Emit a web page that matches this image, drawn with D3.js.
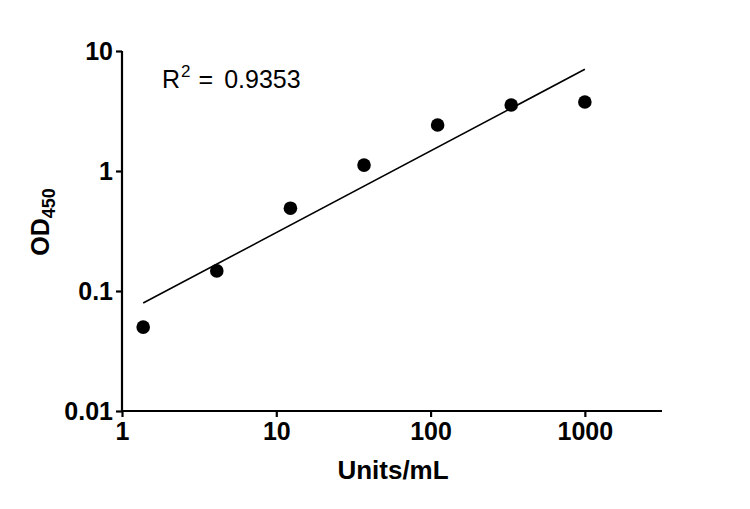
<!DOCTYPE html>
<html>
<head>
<meta charset="utf-8">
<script src="https://cdn.jsdelivr.net/npm/d3@7"></script>
<style>
  html, body { margin: 0; padding: 0; background: #fff; }
  svg { display: block; }
  text { font-family: "Liberation Sans", Arial, sans-serif; fill: #000; }
</style>
</head>
<body>
<script>
// ---- Data ----
const concentrations = [1.372, 4.115, 12.35, 37.04, 111.1, 333.3, 1000]; // Units/mL
const od450 = [0.050, 0.147, 0.49, 1.12, 2.42, 3.55, 3.76];
const xTicks = [1, 10, 100, 1000];
const yTicks = [0.01, 0.1, 1, 10];
const xTickLabels = ["1", "10", "100", "1000"];
const yTickLabels = ["0.01", "0.1", "1", "10"];
const rSquaredLabel = "0.9353";

const W = 750, H = 509;
const svg = d3.select("body").append("svg").attr("width", W).attr("height", H);

const x = d3.scaleLog().domain([1, Math.pow(10, 3.5)]).range([122, 662]);
const y = d3.scaleLog().domain([0.01, 10]).range([411, 51]);

// Axes
const xAxis = d3.axisBottom(x).tickValues(xTicks).tickSize(6).tickPadding(5)
  .tickFormat((d, i) => xTickLabels[i]);
const yAxis = d3.axisLeft(y).tickValues(yTicks).tickSize(6).tickPadding(3)
  .tickFormat((d, i) => yTickLabels[i]);

const gx = svg.append("g").attr("transform", `translate(0,${y(0.01)})`).call(xAxis);
const gy = svg.append("g").attr("transform", `translate(${x(1)},0)`).call(yAxis);

[gx, gy].forEach(g => {
  g.attr("font-size", 25).attr("font-family", '"Liberation Sans", Arial, sans-serif');
  g.select(".domain").attr("stroke", "#000").attr("stroke-width", 2.2);
  g.selectAll(".tick line").attr("stroke", "#000").attr("stroke-width", 2.2);
  g.selectAll(".tick text")
    .style("font-size", "25px").style("font-weight", "bold").attr("fill", "#000");
});
gx.select(".domain").attr("d", `M${x.range()[0]},0H${x.range()[1]}`);
gy.select(".domain").attr("d", `M0,${y.range()[0]}V${y.range()[1]}`);

// Axis titles
svg.append("text")
  .attr("x", 393).attr("y", 479)
  .attr("text-anchor", "middle")
  .style("font-size", "26px").style("font-weight", "bold")
  .text("Units/mL");

const yt = svg.append("text")
  .attr("transform", "translate(49,222) rotate(-90)")
  .attr("text-anchor", "middle")
  .style("font-size", "25px").style("font-weight", "bold");
yt.append("tspan").text("OD");
yt.append("tspan").style("font-size", "18px").attr("dy", 6).text("450");

// Linear regression in log-log space (fit line)
const lx = concentrations.map(Math.log10), ly = od450.map(Math.log10);
const mx = d3.mean(lx), my = d3.mean(ly);
const slope = d3.sum(lx.map((v, i) => (v - mx) * (ly[i] - my))) / d3.sum(lx.map(v => (v - mx) ** 2));
const intercept = my - slope * mx;
const fitX = [concentrations[0], concentrations[concentrations.length - 1]];
const fitData = fitX.map(c => [c, Math.pow(10, intercept + slope * Math.log10(c))]);

svg.append("path")
  .datum(fitData)
  .attr("fill", "none").attr("stroke", "#000").attr("stroke-width", 1.6)
  .attr("d", d3.line().x(d => x(d[0])).y(d => y(d[1])));

// Points
svg.selectAll("circle.pt")
  .data(concentrations.map((c, i) => [c, od450[i]]))
  .join("circle")
  .attr("class", "pt")
  .attr("cx", d => x(d[0])).attr("cy", d => y(d[1]))
  .attr("r", 6.8).attr("fill", "#000");

// R² annotation
const rt = svg.append("text").attr("x", 162).attr("y", 88).style("font-size", "25px");
rt.append("tspan").text("R");
rt.append("tspan").style("font-size", "17px").attr("dx", 1).attr("dy", -11).text("2");
rt.append("tspan").attr("dy", 11).attr("dx", 8).text("=");
rt.append("tspan").attr("dx", 11).text(rSquaredLabel);
</script>
</body>
</html>
